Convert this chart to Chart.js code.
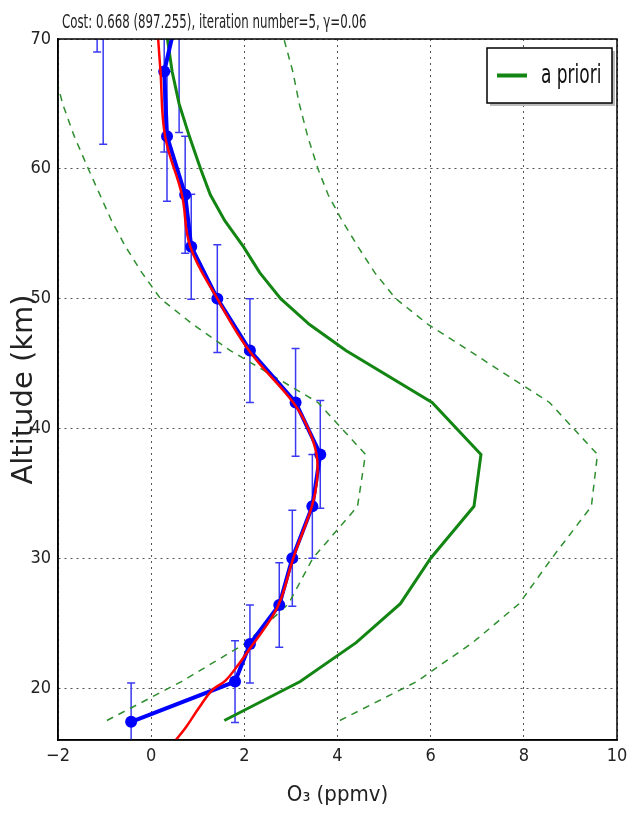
<!DOCTYPE html>
<html>
<head>
<meta charset="utf-8">
<script src="https://cdn.jsdelivr.net/npm/chart.js@4.4.1/dist/chart.umd.min.js"></script>
<style>
  html, body { margin: 0; padding: 0; background: #fff; }
  #wrap { width: 628px; height: 816px; position: relative; }
</style>
</head>
<body>
<div id="wrap"><canvas id="o3Chart"></canvas></div>
<script>
const chartTitle = 'Cost: 0.668 (897.255), iteration number=5, \u03b3=0.06';
const xTitle = 'O\u2083 (ppmv)';
const yTitle = 'Altitude (km)';
const xTicks = [-2, 0, 2, 4, 6, 8, 10];
const yTicks = [20, 30, 40, 50, 60, 70];

// retrieval (blue) with altitude error bars; last points lie above the plotted range
const retrAlt = [17.4, 20.5, 23.4, 26.4, 30, 34, 38, 42, 46, 50, 54, 58, 62.5, 67.5, 72.5, 78, 86];
const retrO3  = [-0.43, 1.8, 2.12, 2.75, 3.03, 3.46, 3.63, 3.1, 2.12, 1.42, 0.86, 0.73, 0.34, 0.28, 0.6, -1.03, -1.16];
const retrErr = [3.0, 3.15, 3.0, 3.25, 3.7, 4.0, 4.15, 4.15, 4.0, 4.15, 4.05, 4.5, 5.0, 6.2, 9.7, 16.1, 17.0];

// smooth fit (red)
const fitAlt = [16, 17, 18.5, 19.85, 20.6, 21.9, 23.2, 25.5, 27, 30, 34, 36, 38, 40, 42, 46, 50, 54, 58, 62.5, 67.5, 70.5];
const fitO3  = [0.53, 0.75, 1.03, 1.31, 1.6, 1.89, 2.15, 2.6, 2.8, 3.05, 3.45, 3.56, 3.55, 3.37, 3.05, 2.1, 1.42, 0.84, 0.66, 0.3, 0.2, 0.14];

// a priori (green) and its dashed bounds
const aprioriAlt  = [17.5, 20.5, 23.5, 26.5, 30, 34, 38, 42, 46, 48, 50, 52, 54, 56, 58, 60, 62.5, 65, 67.5, 72.5];
const aprioriO3   = [1.57, 3.2, 4.4, 5.35, 6.0, 6.93, 7.08, 6.03, 4.18, 3.4, 2.78, 2.33, 1.98, 1.58, 1.27, 1.06, 0.82, 0.6, 0.45, 0.25];
const aprioriLow  = [-0.95, 0.65, 2.05, 2.95, 3.47, 4.43, 4.6, 3.58, 1.7, 0.9, 0.2, -0.2, -0.55, -0.85, -1.1, -1.35, -1.65, -1.9, -2.08, -2.3];
const aprioriHigh = [4.05, 5.7, 6.9, 7.9, 8.6, 9.45, 9.58, 8.55, 6.82, 5.95, 5.25, 4.8, 4.44, 4.1, 3.8, 3.58, 3.36, 3.18, 3.04, 2.66];

const narrow = '"Liberation Sans Narrow", "DejaVu Sans Condensed", "Liberation Sans", sans-serif';
const toPts = (xs, ys) => xs.map((v, i) => ({ x: v, y: ys[i] }));
const minus = v => (v < 0 ? '\u2212' + Math.abs(v) : String(v));

const errorBars = {
  id: 'errorBars',
  beforeDatasetsDraw(chart) {
    const { ctx, chartArea: a, scales: { x, y } } = chart;
    ctx.save();
    ctx.beginPath();
    ctx.rect(a.left, a.top, a.width, a.height);
    ctx.clip();
    ctx.strokeStyle = '#3a3af2';
    ctx.lineWidth = 1.5;
    retrO3.forEach((v, i) => {
      const px = x.getPixelForValue(v);
      const top = y.getPixelForValue(retrAlt[i] + retrErr[i]);
      const bot = y.getPixelForValue(retrAlt[i] - retrErr[i]);
      ctx.beginPath();
      ctx.moveTo(px, top); ctx.lineTo(px, bot);
      ctx.moveTo(px - 4, top); ctx.lineTo(px + 4, top);
      ctx.moveTo(px - 4, bot); ctx.lineTo(px + 4, bot);
      ctx.stroke();
    });
    ctx.restore();
  }
};

// squeezed text, the source picture is narrower than its fonts
function narrowText(ctx, text, x, y, sx) {
  ctx.save();
  ctx.translate(x, y);
  ctx.scale(sx, 1);
  ctx.fillText(text, 0, 0);
  ctx.restore();
}

const frameAndLegend = {
  id: 'frameAndLegend',
  afterDraw(chart) {
    const { ctx, chartArea: a } = chart;
    ctx.save();
    ctx.strokeStyle = '#000';
    ctx.lineWidth = 1.5;
    ctx.strokeRect(a.left, a.top, a.width, a.height);

    // title
    ctx.fillStyle = '#222';
    ctx.font = '19px ' + narrow;
    ctx.textBaseline = 'alphabetic';
    ctx.textAlign = 'left';
    narrowText(ctx, chartTitle, a.left + 4, a.top - 11, 0.69);

    // legend box (upper right)
    const ds = chart.data.datasets.find(d => d.label === 'a priori');
    const w = 125, h = 55;
    const lx = a.right - 5 - w, ly = a.top + 9;
    ctx.fillStyle = '#bbb';
    ctx.fillRect(lx + 3, ly + 3, w, h);
    ctx.fillStyle = '#fff';
    ctx.fillRect(lx, ly, w, h);
    ctx.strokeStyle = '#000';
    ctx.lineWidth = 1.5;
    ctx.strokeRect(lx, ly, w, h);
    ctx.strokeStyle = ds.borderColor;
    ctx.lineWidth = 4;
    ctx.beginPath();
    ctx.moveTo(lx + 10, ly + h / 2);
    ctx.lineTo(lx + 40, ly + h / 2);
    ctx.stroke();
    ctx.fillStyle = '#111';
    ctx.font = '27px ' + narrow;
    ctx.textBaseline = 'middle';
    narrowText(ctx, ds.label, lx + 54, ly + h / 2, 0.7);
    ctx.restore();
  }
};

new Chart(document.getElementById('o3Chart'), {
  type: 'line',
  data: {
    datasets: [
      {
        label: 'fit',
        data: toPts(fitO3, fitAlt),
        borderColor: '#ff0000',
        borderWidth: 2.5,
        tension: 0.4,
        pointRadius: 0,
        clip: 0
      },
      {
        label: 'retrieval',
        data: toPts(retrO3, retrAlt),
        borderColor: '#0000ff',
        backgroundColor: '#0000ff',
        borderWidth: 4,
        pointRadius: 6,
        pointBorderWidth: 0,
        clip: 0
      },
      {
        label: 'a priori',
        data: toPts(aprioriO3, aprioriAlt),
        borderColor: '#138513',
        borderWidth: 3,
        pointRadius: 0,
        clip: 0
      },
      {
        label: 'a priori low',
        data: toPts(aprioriLow, aprioriAlt),
        borderColor: '#2f8f2f',
        borderWidth: 1.5,
        borderDash: [7, 6],
        pointRadius: 0,
        clip: 0
      },
      {
        label: 'a priori high',
        data: toPts(aprioriHigh, aprioriAlt),
        borderColor: '#2f8f2f',
        borderWidth: 1.5,
        borderDash: [7, 6],
        pointRadius: 0,
        clip: 0
      }
    ]
  },
  options: {
    indexAxis: 'y',
    responsive: true,
    maintainAspectRatio: false,
    animation: false,
    layout: { padding: { top: 39, right: 11, left: 0, bottom: 0 } },
    plugins: {
      legend: { display: false },
      tooltip: { enabled: false }
    },
    scales: {
      x: {
        type: 'linear',
        position: 'bottom',
        min: -2,
        max: 10,
        afterBuildTicks: s => { s.ticks = xTicks.map(v => ({ value: v })); },
        afterFit: s => { s.height = 76; s.paddingRight = 0; s.paddingLeft = 0; },
        ticks: {
          color: '#222',
          font: { family: narrow, size: 18 },
          padding: 6,
          callback: v => minus(v)
        },
        grid: { color: '#555', lineWidth: 1, drawTicks: false },
        border: { display: true, color: '#000', width: 1.5, dash: [2, 4] },
        title: {
          display: true,
          text: xTitle,
          color: '#222',
          font: { family: narrow, size: 22 },
          padding: { top: 0, bottom: 8 }
        }
      },
      y: {
        type: 'linear',
        position: 'left',
        min: 16,
        max: 70,
        afterBuildTicks: s => { s.ticks = yTicks.map(v => ({ value: v })); },
        afterFit: s => { s.width = 58; s.paddingTop = 0; s.paddingBottom = 0; },
        ticks: {
          color: '#222',
          font: { family: narrow, size: 18 },
          padding: 7
        },
        grid: { color: '#555', lineWidth: 1, drawTicks: false },
        border: { display: true, color: '#000', width: 1.5, dash: [2, 4] },
        title: {
          display: true,
          text: yTitle,
          color: '#222',
          font: { family: '"DejaVu Sans", sans-serif', size: 29 },
          padding: { top: 7, bottom: 0 }
        }
      }
    }
  },
  plugins: [errorBars, frameAndLegend]
});
</script>
</body>
</html>
